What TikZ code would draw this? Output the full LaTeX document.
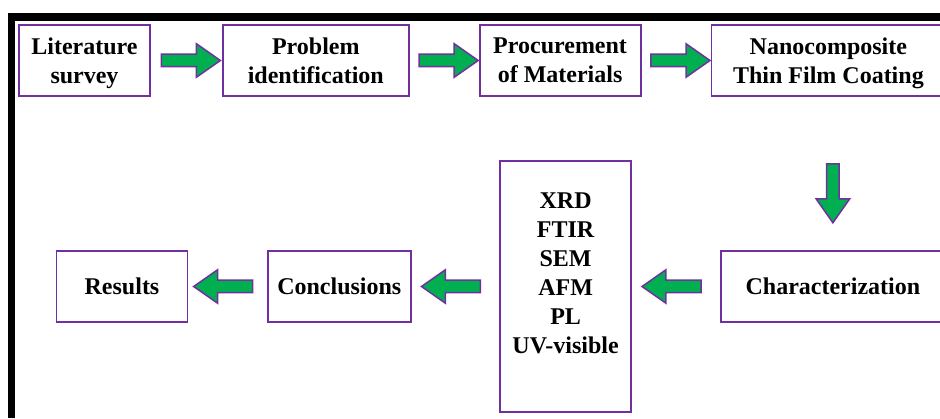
\documentclass[tikz,border=0pt]{standalone}
\usepackage{fontspec}
\setmainfont{Liberation Serif}
\usetikzlibrary{positioning,shapes.arrows}
\definecolor{boxpurple}{RGB}{112,48,160}
\definecolor{arrgreen}{RGB}{0,176,80}
\begin{document}
\begin{tikzpicture}[x=1pt,y=1pt,
  box/.style={draw=boxpurple,line width=1.8pt,align=center,inner sep=0pt,text depth=0pt,
    font=\fontsize{24}{29}\selectfont\bfseries,minimum height=71pt},
  garrow/.style={single arrow,draw=boxpurple,line width=1.5pt,fill=arrgreen,
    minimum height=59pt,inner xsep=0pt,inner ysep=5.5pt,text height=0pt,text depth=0pt,
    single arrow head extend=10.5pt,single arrow tip angle=70}]%work flow
\useasboundingbox (0,0) rectangle (940,418);
\clip (0,0) rectangle (940,418);
\fill[black] (8,0) rectangle (15,404.7);
\fill[black] (8,397.3) rectangle (940,404.7);
\node[box,minimum width=131pt] (lit) at (84.5,357.5) {Literature\\survey};
\node[box,minimum width=186pt,right=71pt of lit] (prob) {Problem\\identification};
\node[box,minimum width=161pt,right=69pt of prob] (proc) {Procurement\\of Materials};
\node[box,minimum width=234pt,right=69pt of proc] (nano) {Nanocomposite\\Thin Film Coating};
\node[box,minimum width=224pt,anchor=west] (char) at (720,131.5) {Characterization};
\node[box,minimum width=131pt,minimum height=251pt,text depth=26pt,left=88pt of char] (xrd)
  {XRD\\FTIR\\SEM\\AFM\\PL\\UV-visible};
\node[box,minimum width=143pt,left=87.5pt of xrd] (conc) {Conclusions};
\node[box,minimum width=131pt,left=78.5pt of conc] (res) {Results};
\path (lit.east) -- node[garrow] (a1) {} (prob.west);
\path (prob.east) -- node[garrow] (a2) {} (proc.west);
\path (proc.east) -- node[garrow] (a3) {} (nano.west);
\path (nano.south -| char.north) -- node[garrow,rotate=-90,pos=0.6] (a4) {} (char.north);
\path (char.west) -- node[garrow,rotate=180] (a5) {} (xrd.east);
\path (xrd.west) -- node[garrow,rotate=180] (a6) {} (conc.east);
\path (conc.west) -- node[garrow,rotate=180] (a7) {} (res.east);
\end{tikzpicture}
\end{document}
